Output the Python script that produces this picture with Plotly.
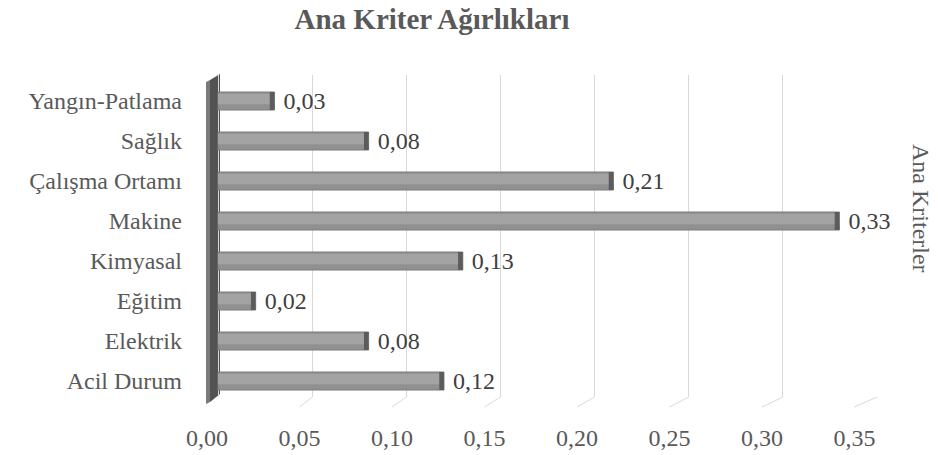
import plotly.graph_objects as go

# ---- data -------------------------------------------------------------
criteria = ["Acil Durum", "Elektrik", "Eğitim", "Kimyasal", "Makine",
            "Çalışma Ortamı", "Sağlık", "Yangın-Patlama"]
weights = [0.12, 0.08, 0.02, 0.13, 0.33, 0.21, 0.08, 0.03]
tick_values = [0.00, 0.05, 0.10, 0.15, 0.20, 0.25, 0.30, 0.35]

title_text = "Ana Kriter Ağırlıkları"
axis_title = "Ana Kriterler"

# ---- geometry of the pseudo-3D frame (pixels) -------------------------
W, H = 938, 455
L, R, T, B = 205, 61, 75, 58
plot_w, plot_h = W - L - R, H - T - B

back_zero, back_scale = 218, 1883.0    # back wall: px per unit value
front_zero, front_scale = 207, 1850.0  # front edge (tick labels)
floor_front_y, floor_back_y = 407, 397

x_range = [(L - back_zero) / back_scale, (L + plot_w - back_zero) / back_scale]
x2_range = [(L - front_zero) / front_scale, (L + plot_w - front_zero) / front_scale]


def px(x):
    return (x - L) / plot_w


def py(y):
    return (H - B - y) / plot_h


FONT = "Liberation Serif"
TEXT = "#595959"

fig = go.Figure()

# main bar body
fig.add_trace(go.Bar(
    y=criteria, x=weights, orientation="h", width=0.45,
    marker=dict(color="#909090", line=dict(color="#7c7c7c", width=1)),
    texttemplate="\u00a0%{x:.2f}", textposition="outside",
    textfont=dict(family=FONT, size=24, color="#404040"),
    constraintext="none", cliponaxis=False, hoverinfo="skip",
))
# lighter upper band for the rounded look
fig.add_trace(go.Bar(
    y=criteria, x=weights, orientation="h", width=0.26, offset=-0.08,
    marker=dict(color="#a3a3a3", line=dict(width=0)), hoverinfo="skip",
))
# darker end cap
fig.add_trace(go.Bar(
    y=criteria, x=[0.0025] * len(weights), base=[w - 0.0025 for w in weights],
    orientation="h", width=0.45,
    marker=dict(color="#5c5c5c", line=dict(width=0)), hoverinfo="skip",
))
# carrier for the front tick-label axis
fig.add_trace(go.Scatter(
    x=[tick_values[0], tick_values[-1]], y=[criteria[0], criteria[0]],
    xaxis="x2", mode="markers", marker=dict(opacity=0), hoverinfo="skip",
    showlegend=False,
))

shapes = []
# side wall (two faces)
shapes.append(dict(
    type="path", xref="paper", yref="paper", layer="between",
    path=f"M {px(206)},{py(82)} L {px(210)},{py(80)} L {px(210)},{py(402)} L {px(206)},{py(404)} Z",
    fillcolor="#7a7a7a", line=dict(width=0)))
shapes.append(dict(
    type="path", xref="paper", yref="paper", layer="between",
    path=f"M {px(210)},{py(80)} L {px(220)},{py(74)} L {px(220)},{py(394)} L {px(210)},{py(402)} Z",
    fillcolor="#525252", line=dict(width=0)))
# floor perspective lines
for t in tick_values[1:]:
    shapes.append(dict(
        type="line", xref="paper", yref="paper", layer="below",
        x0=px(front_zero + t * front_scale), y0=py(floor_front_y),
        x1=px(back_zero + t * back_scale), y1=py(floor_back_y),
        line=dict(color="#d9d9d9", width=1)))

fig.update_layout(
    width=W, height=H,
    margin=dict(l=L, r=R, t=T, b=B, pad=0, autoexpand=False),
    paper_bgcolor="white", plot_bgcolor="white",
    barmode="overlay", showlegend=False, separators=",.",
    font=dict(family=FONT, size=24, color=TEXT),
    title=dict(text=f"<b>{title_text}</b>", x=432 / W, xanchor="center",
               xref="container", yref="container", y=1 - 19 / H, yanchor="middle",
               automargin=False,
               font=dict(family=FONT, size=29, color=TEXT)),
    xaxis=dict(range=x_range, tickvals=tick_values, showticklabels=False,
               showgrid=True, gridcolor="#d9d9d9", gridwidth=1,
               zeroline=False, showline=False, ticks="", automargin=False),
    xaxis2=dict(range=x2_range, overlaying="x", anchor="y", side="bottom",
                tickvals=tick_values, tickformat=".2f", showgrid=False,
                zeroline=False, showline=False, ticks="", automargin=False,
                ticklabelstandoff=24,
                tickfont=dict(family=FONT, size=24, color=TEXT)),
    yaxis=dict(categoryorder="array", categoryarray=criteria,
               range=[-0.4, 7.65], showgrid=False, zeroline=False,
               showline=False, ticks="", ticklabelstandoff=22, automargin=False,
               tickfont=dict(family=FONT, size=24, color=TEXT)),
    shapes=shapes,
    annotations=[dict(
        text=axis_title, xref="paper", yref="paper",
        x=px(921), y=py(208), textangle=90, showarrow=False,
        xanchor="center", yanchor="middle",
        font=dict(family=FONT, size=24, color=TEXT))],
)

fig.write_html("out.html")
